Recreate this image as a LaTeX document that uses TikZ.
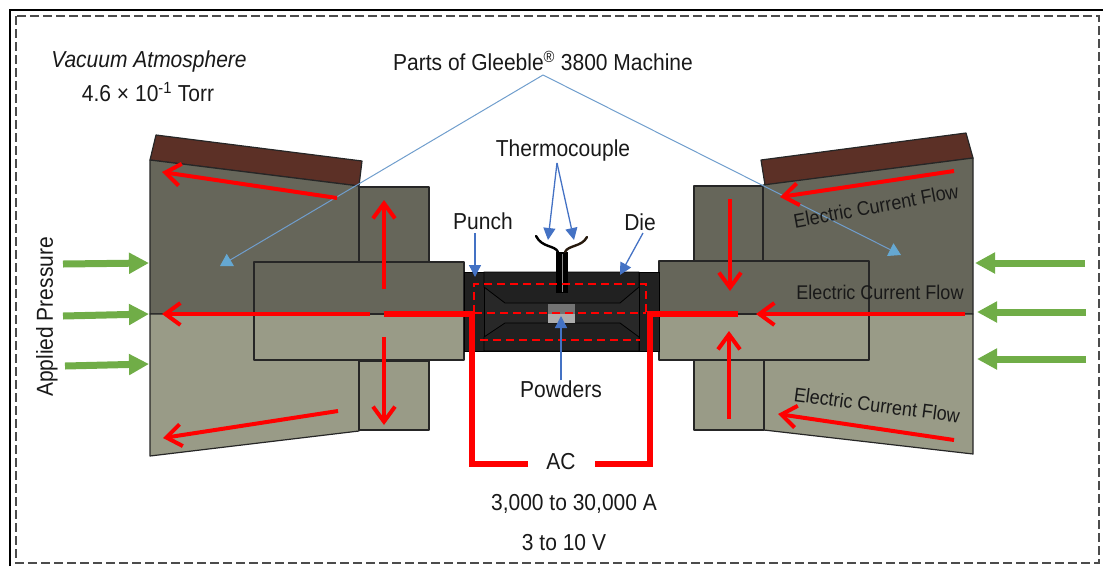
\documentclass[tikz,border=0pt]{standalone}
\usepackage{fontspec}
\setmainfont{Liberation Sans}
\usetikzlibrary{arrows.meta}
\definecolor{darkbody}{RGB}{102,102,90}
\definecolor{lightbody}{RGB}{153,155,135}
\definecolor{brownpad}{RGB}{92,48,38}
\definecolor{diecol}{RGB}{33,33,33}
\definecolor{diepanel}{RGB}{40,40,40}
\definecolor{redflow}{RGB}{255,0,0}
\definecolor{greenp}{RGB}{112,173,71}
\definecolor{blueA}{RGB}{112,158,205}
\definecolor{blueB}{RGB}{68,114,196}
\newcommand\tallT[1]{\scalebox{1}[1.1]{#1}}
\tikzset{
  part/.style={draw=black!85,line width=1.2pt,line join=round},
  darkpart/.style={part,fill=darkbody},
  lightpart/.style={part,fill=lightbody},
  brownp/.style={part,fill=brownpad},
  flow/.style={draw=redflow,line width=4pt,-{Straight Barb[length=15pt,width=22pt,line width=4pt]}},
  bus/.style={draw=redflow,line width=6pt},
  press/.style={draw=greenp,line width=7pt,-{Triangle[length=20pt,width=20pt]}},
  leadA/.style={draw=blueA,line width=1pt,-{Triangle[length=12pt,width=14pt,color=blueA!90!cyan]}},
  leadB/.style={draw=blueB,line width=1.3pt,-{Triangle[length=12pt,width=12pt]}},
  lab/.style={inner sep=0pt,font=\fontsize{21}{24}\selectfont,text=black!90},
  labs/.style={inner sep=0pt,font=\fontsize{18}{21}\selectfont,text=black!90},
  redash/.style={redflow,line width=1.1pt,dash pattern=on 8pt off 5pt},
}
\begin{document}
\begin{tikzpicture}[x=1pt,y=-1pt]
\useasboundingbox (0,0) rectangle (1103,566);
% frames
\draw[black,line width=1.3pt] (10,566) -- (10,10) -- (1103,10);
\draw[black!70,line width=1.2pt,dash pattern=on 9pt off 4pt] (16,16) rectangle (1099,563);
% left machine
\filldraw[brownp] (156,135) -- (362,161) -- (359,186) -- (150,160) -- cycle;
\filldraw[darkpart] (150,160) -- (359,186) -- (359,314) -- (150,314) -- cycle;
\filldraw[lightpart] (150,314) -- (359,314) -- (359,431) -- (150,456) -- cycle;
\filldraw[darkpart] (359,187) rectangle (429,262);
\filldraw[lightpart] (359,361) rectangle (429,430);
\filldraw[darkpart] (254,262) rectangle (464,314);
\filldraw[lightpart] (254,314) rectangle (464,360);
% right machine
\filldraw[brownp] (761,160) -- (966,133) -- (973,158) -- (765,185) -- cycle;
\filldraw[darkpart] (763,185) -- (973,158) -- (973,314) -- (763,314) -- cycle;
\filldraw[lightpart] (763,314) -- (973,314) -- (973,454) -- (764,430) -- cycle;
\filldraw[darkpart] (694,186) rectangle (763,261);
\filldraw[lightpart] (694,360) rectangle (764,430);
\filldraw[darkpart] (659,261) rectangle (869,314);
\filldraw[lightpart] (659,314) rectangle (869,360);
% die
\filldraw[draw=black,fill=diecol,line width=1pt] (464,272) rectangle (659,351);
\filldraw[draw=black,fill=diepanel,line width=.8pt] (484,272) rectangle (639,351);
\filldraw[draw=black,fill=diecol,line width=.8pt] (484,272) -- (484,287) -- (505,303) -- (620,303) -- (639,287) -- (639,272) -- cycle;
\filldraw[draw=black,fill=diecol,line width=.8pt] (484,351) -- (484,337) -- (505,323) -- (620,323) -- (639,337) -- (639,351) -- cycle;
\fill[black!55] (548,304) rectangle (575,314);
\fill[black!32] (548,314) rectangle (575,323);
% thermocouple
\fill[black] (556,252) rectangle (568,293);
\draw[black!45,line width=1pt] (562,254) -- (562,292);
\draw[black,line width=2.4pt,line cap=round] (558,252) .. controls (555,245) and (542,248) .. (536,236);
\draw[black!80!brown,line width=2.4pt,line cap=round] (565,252) .. controls (568,245) and (582,247) .. (587,237);
% dashed current path
\draw[redash] (474,313) -- (474,284) -- (646,284) -- (646,313);
\draw[redash] (474,313) -- (646,313);
\draw[redash] (480,340) -- (640,340);
% leaders
\node[lab] (parts) at (543,61) {\tallT{Parts of Gleeble\textsuperscript{®} 3800 Machine}};
\coordinate (pa) at (543,75);
\coordinate (ptL) at (220,266);
\coordinate (ptR) at (901,255);
\draw[leadA] (pa) -- (ptL);
\draw[leadA] (pa) -- (ptR);
% flows
\coordinate (f1a) at (337,198); \coordinate (f1b) at (162,172);
\coordinate (f2a) at (384,289); \coordinate (f2b) at (384,200);
\coordinate (f3a) at (370,314); \coordinate (f3b) at (162,314);
\coordinate (f4a) at (384,337); \coordinate (f4b) at (384,425);
\coordinate (f5a) at (338,411); \coordinate (f5b) at (163,438);
\coordinate (f6a) at (954,171); \coordinate (f6b) at (780,197);
\coordinate (f7a) at (730,199); \coordinate (f7b) at (730,291);
\coordinate (f8a) at (965,314); \coordinate (f8b) at (756,314);
\coordinate (f9a) at (729,419); \coordinate (f9b) at (729,331);
\coordinate (f10a) at (954,440); \coordinate (f10b) at (778,414);
\foreach \i in {1,...,10} \draw[flow] (f\i a) -- (f\i b);
% AC circuit
\node[lab] (ac) at (561,462) {\tallT{AC}};
\coordinate (bl) at (472,464); \coordinate (tl) at (472,314);
\coordinate (el) at (384,314); \coordinate (sl) at (528,464);
\coordinate (br) at (650,464); \coordinate (tr) at (650,314);
\coordinate (er) at (738,314); \coordinate (sr) at (595,464);
\draw[bus,line join=miter] (sl) -- (bl) -- (tl) -- (el);
\draw[bus,line join=miter] (sr) -- (br) -- (tr) -- (er);
% pressure
\coordinate (p1a) at (63,264); \coordinate (p1b) at (149,263);
\coordinate (p2a) at (63,316); \coordinate (p2b) at (149,314);
\coordinate (p3a) at (65,366); \coordinate (p3b) at (149,364);
\coordinate (p4a) at (1085,263); \coordinate (p4b) at (975,263);
\coordinate (p5a) at (1086,312); \coordinate (p5b) at (977,312);
\coordinate (p6a) at (1086,359); \coordinate (p6b) at (977,359);
\foreach \i in {1,...,6} \draw[press] (p\i a) -- (p\i b);
% labels
\node[lab] at (149,62) {\tallT{\itshape Vacuum Atmosphere}};
\node[lab] at (148,92) {\tallT{4.6 × 10\textsuperscript{-1} Torr}};
\node[lab] (thermo) at (563,151) {\tallT{Thermocouple}};
\node[lab] (punch) at (483,221) {\tallT{Punch}};
\node[lab] (die) at (640,222) {\tallT{Die}};
\node[lab] (powders) at (561,389) {\tallT{Powders}};
\node[lab] at (574,504) {\tallT{3,000 to 30,000 A}};
\node[lab] at (564,543) {\tallT{3 to 10 V}};
\node[lab,rotate=90] (pressure) at (47,317) {\tallT{Applied Pressure}};
\node[labs,rotate=10.5] at (876,206) {\tallT{Electric Current Flow}};
\node[labs] at (880,292) {\tallT{Electric Current Flow}};
\node[labs,rotate=-7.5] at (877,405) {\tallT{Electric Current Flow}};
\coordinate (tc0) at (557,163); \coordinate (tc1) at (548,240); \coordinate (tc2) at (574,240);
\coordinate (pn0) at (475,233); \coordinate (pn) at (475,277);
\coordinate (dn0) at (643,233); \coordinate (dn) at (620,275);
\coordinate (pw) at (561,316);
\draw[leadB] (tc0) -- (tc1);
\draw[leadB] (tc0) -- (tc2);
\draw[leadB] (pn0) -- (pn);
\draw[leadB] (dn0) -- (dn);
\draw[leadB] (powders.north) -- (pw);
\end{tikzpicture}
\end{document}
